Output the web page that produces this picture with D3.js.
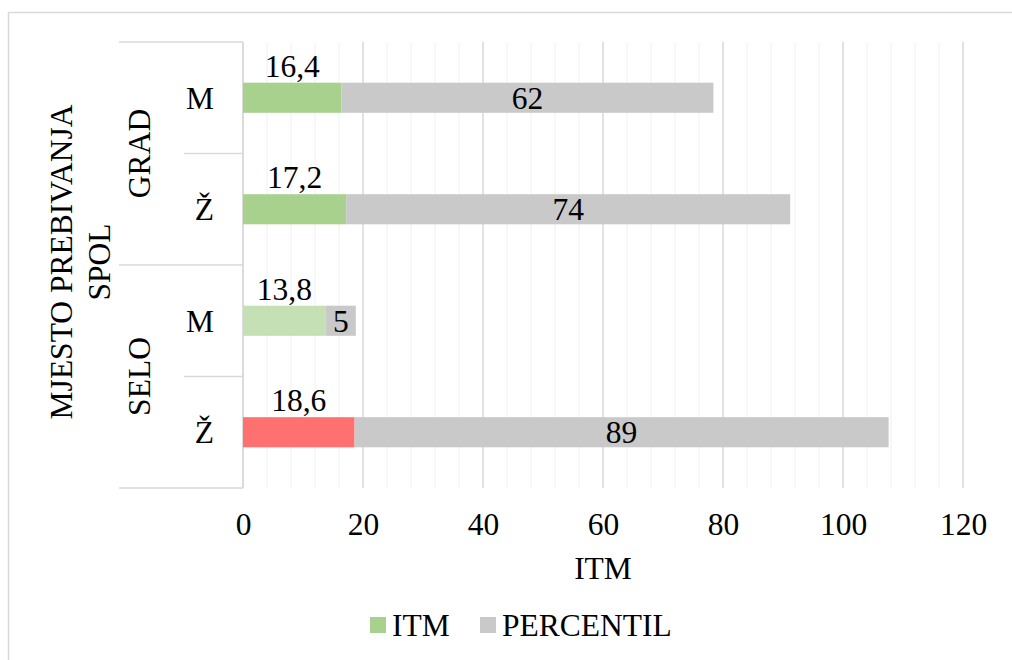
<!DOCTYPE html>
<html>
<head>
<meta charset="utf-8">
<script src="https://cdn.jsdelivr.net/npm/d3@7"></script>
<style>
  body { margin: 0; background: #fff; }
  text { font-family: "Liberation Serif", "Times New Roman", serif; fill: #000; }
</style>
</head>
<body>
<div id="chart"></div>
<script>
// data
let groups = ["GRAD", "SELO"];
let categories = ["GRAD|M", "GRAD|Ž", "SELO|M", "SELO|Ž"];
let sexLabels = ["M", "Ž", "M", "Ž"];
let itmValues = [16.4, 17.2, 13.8, 18.6];
let percentilValues = [62, 74, 5, 89];
let itmLabels = ["16,4", "17,2", "13,8", "18,6"];
let itmColors = ["#a9d18e", "#a9d18e", "#c5e0b4", "#ff7171"];
let xTicks = [0, 20, 40, 60, 80, 100, 120];

let svgWidth = 1012;
let svgHeight = 660;
let plot = { left: 243, right: 963, top: 42, bottom: 488 };
let fontSize = "31.5px";

let svg = d3.select("#chart")
  .append("svg")
  .attr("width", svgWidth)
  .attr("height", svgHeight);

// chart border
svg.append("rect")
  .attr("x", 8.5).attr("y", 12.5)
  .attr("width", 1010).attr("height", 660)
  .attr("fill", "none")
  .attr("stroke", "#d9d9d9")
  .attr("stroke-width", 1.5);

let x = d3.scaleLinear().domain([0, 120]).range([plot.left, plot.right]);
let y = d3.scaleBand().domain(categories).range([plot.top, plot.bottom])
  .paddingInner(0.73).paddingOuter(0.365);
let yOuter = d3.scaleBand().domain(categories).range([plot.top, plot.bottom]);
let yGroup = d3.scaleBand().domain(groups).range([plot.top, plot.bottom]);

// minor gridlines every 4
let minor = d3.range(4, 121, 4).filter(v => v % 20 !== 0);
svg.append("g").selectAll("line")
  .data(minor).enter().append("line")
  .attr("x1", d => x(d)).attr("x2", d => x(d))
  .attr("y1", plot.top).attr("y2", plot.bottom)
  .attr("stroke", "#f0f0f0").attr("stroke-width", 1);

// major gridlines
svg.append("g").selectAll("line")
  .data(xTicks).enter().append("line")
  .attr("x1", d => x(d)).attr("x2", d => x(d))
  .attr("y1", plot.top).attr("y2", plot.bottom)
  .attr("stroke", "#d9d9d9").attr("stroke-width", 1.5);

// x axis tick labels
let bottomAxis = d3.axisBottom(x).tickValues(xTicks).tickSize(0).tickPadding(0);
let xAxis = svg.append("g")
  .attr("transform", `translate(0, ${plot.bottom})`)
  .call(bottomAxis);
xAxis.attr("font-family", null).attr("font-size", null);
xAxis.select(".domain").remove();
xAxis.selectAll("text")
  .attr("y", 47)
  .attr("dy", 0)
  .style("font-size", fontSize)
  .attr("fill", "#000");

svg.append("text")
  .attr("x", (plot.left + plot.right) / 2)
  .attr("y", 579)
  .attr("text-anchor", "middle")
  .style("font-size", fontSize)
  .text("ITM");

// category axis lines
let inner = categories.slice(1).filter((d, i) => i % 2 === 0);
svg.append("g").selectAll("line")
  .data(inner).enter().append("line")
  .attr("x1", 184).attr("x2", plot.left)
  .attr("y1", d => yOuter(d)).attr("y2", d => yOuter(d))
  .attr("stroke", "#d9d9d9").attr("stroke-width", 1.5);
let outerEdges = [plot.top, yGroup("SELO"), plot.bottom];
svg.append("g").selectAll("line")
  .data(outerEdges).enter().append("line")
  .attr("x1", 119).attr("x2", plot.left)
  .attr("y1", d => d).attr("y2", d => d)
  .attr("stroke", "#d9d9d9").attr("stroke-width", 1.5);
svg.append("line")
  .attr("x1", plot.left).attr("x2", plot.left)
  .attr("y1", plot.top).attr("y2", plot.bottom)
  .attr("stroke", "#d9d9d9").attr("stroke-width", 1.5);

// sex labels
svg.append("g").selectAll("text")
  .data(categories).enter().append("text")
  .attr("x", 214)
  .attr("y", d => yOuter(d) + yOuter.bandwidth() / 2)
  .attr("dy", "0.35em")
  .attr("text-anchor", "end")
  .style("font-size", fontSize)
  .text((d, i) => sexLabels[i]);

// group labels (rotated)
svg.append("g").selectAll("text")
  .data(groups).enter().append("text")
  .attr("transform", d => `translate(139, ${yGroup(d) + yGroup.bandwidth() / 2}) rotate(-90)`)
  .attr("dy", "0.35em")
  .attr("text-anchor", "middle")
  .style("font-size", fontSize)
  .text(d => d);

// axis title
let titleGroup = svg.append("g")
  .attr("transform", `translate(0, 262) rotate(-90)`);
titleGroup.append("text")
  .attr("x", 0).attr("y", 72)
  .attr("text-anchor", "middle")
  .style("font-size", fontSize)
  .text("MJESTO PREBIVANJA");
titleGroup.append("text")
  .attr("x", 0).attr("y", 110)
  .attr("text-anchor", "middle")
  .style("font-size", fontSize)
  .text("SPOL");

// bars
svg.append("g").selectAll("rect")
  .data(categories).enter().append("rect")
  .attr("x", x(0))
  .attr("y", d => y(d))
  .attr("width", (d, i) => x(itmValues[i]) - x(0))
  .attr("height", y.bandwidth())
  .attr("fill", (d, i) => itmColors[i]);

svg.append("g").selectAll("rect")
  .data(categories).enter().append("rect")
  .attr("x", (d, i) => x(itmValues[i]))
  .attr("y", d => y(d))
  .attr("width", (d, i) => x(itmValues[i] + percentilValues[i]) - x(itmValues[i]))
  .attr("height", y.bandwidth())
  .attr("fill", "#c9c9c9");

// data labels
svg.append("g").selectAll("text")
  .data(categories).enter().append("text")
  .attr("x", (d, i) => x(itmValues[i] / 2))
  .attr("y", d => y(d) - 6)
  .attr("text-anchor", "middle")
  .style("font-size", fontSize)
  .text((d, i) => itmLabels[i]);

svg.append("g").selectAll("text")
  .data(categories).enter().append("text")
  .attr("x", (d, i) => x(itmValues[i] + percentilValues[i] / 2))
  .attr("y", d => y(d) + y.bandwidth() / 2)
  .attr("dy", "0.35em")
  .attr("text-anchor", "middle")
  .style("font-size", fontSize)
  .text((d, i) => percentilValues[i]);

// legend
let legendItems = [
  { label: "ITM", color: "#a9d18e", x: 370 },
  { label: "PERCENTIL", color: "#c9c9c9", x: 480 }
];
let legend = svg.append("g");
legend.selectAll("rect")
  .data(legendItems).enter().append("rect")
  .attr("x", d => d.x).attr("y", 617)
  .attr("width", 16).attr("height", 16)
  .attr("fill", d => d.color);
legend.selectAll("text")
  .data(legendItems).enter().append("text")
  .attr("x", d => d.x + 22).attr("y", 636)
  .style("font-size", fontSize)
  .text(d => d.label);
</script>
</body>
</html>
